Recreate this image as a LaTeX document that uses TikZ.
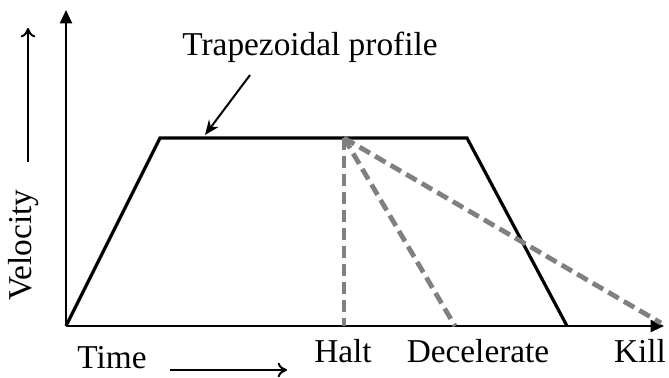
\documentclass[tikz,border=0pt]{standalone}
\usepackage{fontspec}
\setmainfont{Liberation Serif}
\usetikzlibrary{arrows.meta}
\begin{document}
\begin{tikzpicture}[x=0.75pt,y=-0.75pt,
  axis/.style={line width=1.5pt,-{Triangle[length=10pt,width=9pt]}},
  profile/.style={line width=2.4pt,line join=miter},
  stop/.style={line width=3.6pt,draw=gray,dash pattern=on 9pt off 4.5pt},
  lbl/.style={font=\fontsize{25}{29}\selectfont,inner sep=0pt},
  hint/.style={line width=1.5pt,-{To[length=7pt,width=11pt,line width=1.5pt]}}]
\useasboundingbox (0,0) rectangle (669,378);
\coordinate (O) at (66,326);
\coordinate (Ytop) at (66,10);
\coordinate (Xend) at (664,326);
\coordinate (A) at (160,138);
\coordinate (B) at (467,138);
\coordinate (C) at (567,326);
\coordinate (P) at (344,138);
\coordinate (H) at (344,326);
\coordinate (D) at (455,326);
\coordinate (K) at (661,323);
\draw[axis] (O) -- (Ytop);
\draw[axis] (O) -- (Xend);
\draw[profile] (O) -- (A) -- (B) -- (C);
\draw[stop] (P) -- (H);
\draw[stop] (P) -- (D);
\draw[stop] (P) -- (K);
\node[lbl] (tp) at (310,47) {Trapezoidal profile};
\coordinate (tpa) at (250,75);
\coordinate (tpb) at (205,135);
\draw[line width=1.5pt,-{Stealth[length=11pt,width=9pt]}] (tpa) -- (tpb);
\node[lbl,rotate=90] (vel) at (24,245) {Velocity};
\coordinate (va) at (28,162);
\coordinate (vb) at (28,28);
\draw[hint] (va) -- (vb);
\node[lbl] (time) at (112,358) {Time};
\coordinate (ta) at (170,370);
\coordinate (tb) at (287,370);
\draw[hint] (ta) -- (tb);
\node[lbl] (halt) at (343,351) {Halt};
\node[lbl] (dec) at (478,351) {Decelerate};
\node[lbl] (kill) at (640,351) {Kill};
\end{tikzpicture}
\end{document}
